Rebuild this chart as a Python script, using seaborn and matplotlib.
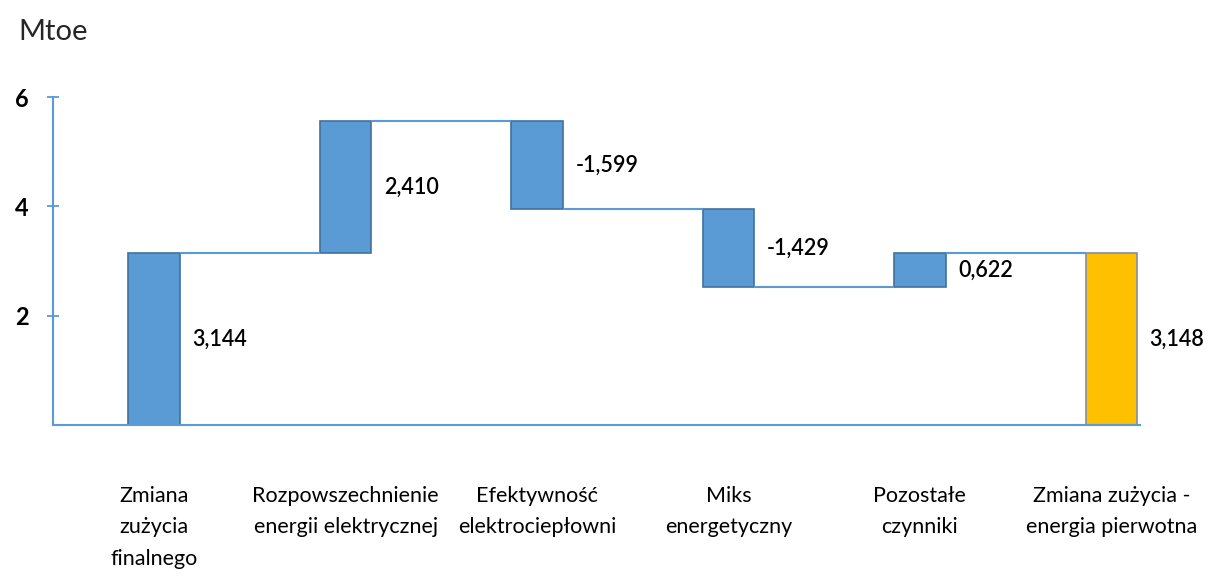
import numpy as np
import matplotlib
matplotlib.use("Agg")
import matplotlib.pyplot as plt
import seaborn as sns

# data
categories = ["Zmiana\nzużycia\nfinalnego",
              "Rozpowszechnienie\nenergii elektrycznej",
              "Efektywność\nelektrociepłowni",
              "Miks\nenergetyczny",
              "Pozostałe\nczynniki",
              "Zmiana zużycia -\nenergia pierwotna"]
changes = [3.144, 2.410, -1.599, -1.429, 0.622]
total = 3.148

# waterfall geometry from the data
levels = np.cumsum(changes)
bottoms = np.concatenate([[0.0], levels[:-1], [0.0]])
heights = np.concatenate([changes, [total]])
tops = bottoms + heights

sns.set_theme(style="white")
plt.rcParams["font.family"] = ["Lato", "DejaVu Sans"]

blue = "#5B9BD5"
blue_edge = "#41719C"
gold = "#FFC000"
w = 0.27

fig = plt.figure(figsize=(12.09, 5.76), dpi=100)
ax = fig.add_axes([0.0436, 0.262, 0.8994, 0.5694])

sns.barplot(x=list(range(len(categories))), y=heights, bottom=bottoms,
            color=blue, saturation=1, width=w, errorbar=None,
            edgecolor=blue_edge, linewidth=1.2, ax=ax)
ax.patches[-1].set_facecolor(gold)
ax.patches[-1].set_edgecolor("#7F8FA6")

# connectors between bars
for i in range(len(heights) - 1):
    level = tops[i]
    ax.plot([i + w / 2, i + 1 - w / 2], [level, level], color=blue, lw=1.5,
            zorder=1, solid_capstyle="butt")

# value labels, right of each bar
for i, (b, h) in enumerate(zip(bottoms, heights)):
    txt = f"{h:.3f}".replace(".", ",")
    ax.annotate(txt, xy=(i + w / 2, b + h / 2), xytext=(9, 0),
                textcoords="offset points", ha="left", va="center",
                fontsize=15.5, fontweight="semibold", color="black")

ax.set_xlim(-0.53, 5.15)
ax.set_ylim(0, 6)
ax.set_yticks([2, 4, 6])
ax.set_yticklabels(["2", "4", "6"], fontsize=17, fontweight="bold")
ax.set_xticks(range(len(categories)))
ax.set_xticklabels(categories, fontsize=15.5, linespacing=1.7)
ax.tick_params(axis="x", bottom=False, length=0, pad=44, colors="black")
ax.tick_params(axis="y", left=True, direction="inout", length=9, width=1.3,
               color=blue, pad=13, labelcolor="black")

for side in ["top", "right"]:
    ax.spines[side].set_visible(False)
for side in ["left", "bottom"]:
    ax.spines[side].set_color(blue)
    ax.spines[side].set_linewidth(1.5)
ax.set_xlabel("")
ax.set_ylabel("")

fig.text(0.015, 0.945, "Mtoe", fontsize=21, ha="left", va="center")

fig.savefig("out.png", dpi=100)
